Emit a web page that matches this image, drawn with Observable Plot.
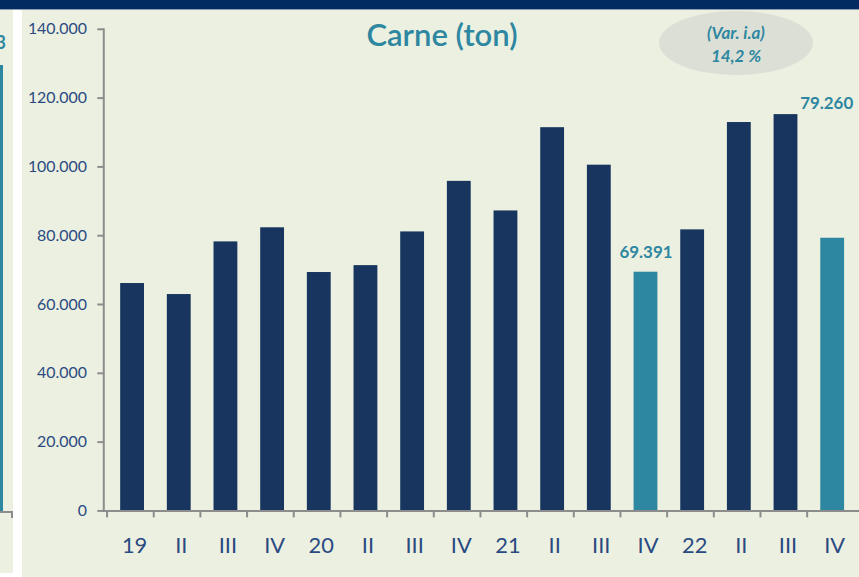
<!DOCTYPE html>
<html>
<head>
<meta charset="utf-8">
<script src="https://cdn.jsdelivr.net/npm/d3@7"></script>
<script src="https://cdn.jsdelivr.net/npm/@observablehq/plot@0.6"></script>
<style>
  html, body { margin: 0; padding: 0; background: #ffffff; overflow: hidden; }
  #wrap { position: relative; width: 859px; height: 577px; overflow: hidden; background: #ffffff; font-family: Lato, "Open Sans", sans-serif; }
  .abs { position: absolute; }
</style>
</head>
<body>
<div id="wrap">
  <div class="abs" style="left:0;top:0;width:859px;height:9px;background:#022b62;"></div>
  <div class="abs" style="left:0;top:9px;width:859px;height:1px;background:#8e9bb0;"></div>
  <!-- left sliver of previous panel -->
  <div class="abs" style="left:0;top:10px;width:13px;height:563px;background:#ecf0e0;"></div>
  <div class="abs" style="left:0;top:65px;width:3px;height:447px;background:#2e87a0;"></div>
  <div class="abs" style="left:0;top:511px;width:13px;height:2px;background:#8c8c8c;"></div>
  <div class="abs" style="left:11px;top:511px;width:2px;height:7px;background:#8c8c8c;"></div>
  <div class="abs" id="sliverLabel" style="right:853px;top:31px;color:#2e87a0;font-weight:700;font-size:18px;">3</div>
  <!-- main panel -->
  <div class="abs" style="left:22px;top:10px;width:837px;height:567px;background:#ecf0e0;"></div>
  <div class="abs" style="left:659px;top:11px;width:154px;height:64px;border-radius:50%;background:#dcdfd5;"></div>
  <div class="abs" id="chart" style="left:0;top:0;"></div>
  <div class="abs" id="title" style="left:300px;top:15px;width:284px;text-align:center;color:#2e87a0;font-size:31px;font-weight:600;"></div>
  <div class="abs" id="note" style="left:659px;top:21px;width:154px;text-align:center;color:#2e87a0;font-size:17px;font-weight:700;font-style:italic;line-height:23px;"></div>
</div>
<script>
const titleText = "Carne (ton)";
const noteLines = ["(Var. i.a)", "14,2 %"];
const quarters = ["2019-I","2019-II","2019-III","2019-IV","2020-I","2020-II","2020-III","2020-IV","2021-I","2021-II","2021-III","2021-IV","2022-I","2022-II","2022-III","2022-IV"];
const tickLabels = ["19","II","III","IV","20","II","III","IV","21","II","III","IV","22","II","III","IV"];
const values = [66100, 62900, 78200, 82300, 69300, 71300, 81100, 95800, 87200, 111400, 100500, 69391, 81700, 112900, 115200, 79260];
const highlighted = ["2021-IV", "2022-IV"];
const labelled = ["2021-IV", "2022-IV"];
const yTicks = [0, 20000, 40000, 60000, 80000, 100000, 120000, 140000];

document.getElementById("title").textContent = titleText;
document.getElementById("note").innerHTML = noteLines.join("<br>");

const fmt = d3.formatLocale({decimal: ",", thousands: ".", grouping: [3], currency: ["", ""]}).format(",");
const data = quarters.map((q, i) => ({q, label: tickLabels[i], value: values[i], hi: highlighted.includes(q)}));
const labelMap = new Map(quarters.map((q, i) => [q, tickLabels[i]]));

const NAVY = "#17355e", TEAL = "#2e87a0", GRAY = "#8c8c8c", TXT = "#2a4a82";
const step = 47.35;

const chart = Plot.plot({
  width: 865,
  height: 577,
  marginLeft: 104,
  marginRight: 0,
  marginTop: 29,
  marginBottom: 63,
  style: {background: "transparent", fontFamily: "Lato, 'Open Sans', sans-serif", overflow: "visible"},
  x: {domain: quarters, range: [106, 106 + 16 * step], paddingInner: 0.5, paddingOuter: 0.25, axis: null},
  y: {domain: [0, 140000], axis: null},
  marks: [
    Plot.barY(data, {x: "q", y: "value", fill: d => d.hi ? TEAL : NAVY}),
    Plot.frame({anchor: "left", stroke: GRAY, strokeWidth: 2}),
    Plot.frame({anchor: "bottom", stroke: GRAY, strokeWidth: 2}),
    Plot.axisY({ticks: yTicks, tickSize: 6, tickPadding: 11, tickFormat: fmt, stroke: GRAY, fill: TXT, strokeWidth: 2, fontSize: 16, label: null}),
    Plot.axisX({tickSize: 7, tickFormat: () => "", stroke: GRAY, strokeWidth: 2, dx: -25.7, label: null}),
    Plot.axisX({tickSize: 0, tickPadding: 27, tickFormat: q => labelMap.get(q), fill: TXT, fontSize: 22, dx: 2, label: null}),
    Plot.text(data.filter(d => d.q === labelled[0]), {x: "q", y: "value", text: d => fmt(d.value), fill: TEAL, fontWeight: "bold", fontSize: 17, lineAnchor: "bottom", dy: -14}),
    Plot.text(data.filter(d => d.q === labelled[1]), {x: "q", y: "value", text: d => fmt(d.value), fill: TEAL, fontWeight: "bold", fontSize: 17, lineAnchor: "bottom", dx: -6, dy: -130})
  ]
});
document.getElementById("chart").appendChild(chart);
</script>
</body>
</html>
